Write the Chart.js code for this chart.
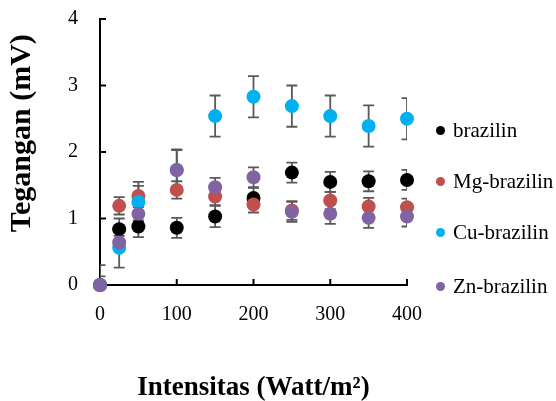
<!DOCTYPE html>
<html>
<head>
<meta charset="utf-8">
<script src="https://cdn.jsdelivr.net/npm/chart.js@4"></script>
<style>
  html, body { margin: 0; padding: 0; background: #fff; }
  #wrap { width: 556px; height: 401px; position: relative; }
  #legend { position: absolute; left: 436px; top: 0; font: 21px 'Liberation Serif', 'Times New Roman', serif; color: #000; }
  #legend div { position: absolute; white-space: nowrap; line-height: 24px; height: 24px; }
  #legend span { display: inline-block; width: 9px; height: 9px; border-radius: 50%; margin-right: 8px; vertical-align: 2px; }
</style>
</head>
<body>
<div id="wrap"><canvas id="c"></canvas><div id="legend"></div></div>
<script>
// intensity (Watt/m2) vs voltage (mV)
const intensitas = [0, 25, 50, 100, 150, 200, 250, 300, 350, 400];
const brazilin    = [0, 0.84, 0.88, 0.86, 1.03, 1.31, 1.69, 1.55, 1.56, 1.58];
const brazilinErr = [0.13, 0.16, 0.16, 0.15, 0.16, 0.15, 0.15, 0.15, 0.15, 0.15];
const mgBrazilin    = [0, 1.19, 1.34, 1.43, 1.33, 1.21, 1.12, 1.27, 1.18, 1.17];
const mgBrazilinErr = [0, 0.13, 0.15, 0.13, 0.13, 0.12, 0.14, 0.13, 0.13, 0.13];
const cuBrazilin    = [0, 0.56, 1.25, 1.73, 2.54, 2.83, 2.69, 2.54, 2.39, 2.50];
const cuBrazilinErr = [0.3, 0.3, 0.3, 0.31, 0.31, 0.31, 0.31, 0.31, 0.31, 0.31];
const znBrazilin    = [0, 0.64, 1.07, 1.73, 1.47, 1.62, 1.10, 1.07, 1.01, 1.03];
const znBrazilinErr = [0, 0.1, 0.1, 0.3, 0.14, 0.15, 0.15, 0.15, 0.15, 0.15];
const xTicks = [0, 100, 200, 300, 400];
const yTicks = [0, 1, 2, 3, 4];

const serif = "'Liberation Serif', 'Times New Roman', serif";
const pts = ys => intensitas.map((x, i) => ({ x, y: ys[i] }));

// listed top-most first (dataset 0 is painted last)
const series = [
  { label: 'Zn-brazilin', data: znBrazilin, err: znBrazilinErr, color: '#8064A2' },
  { label: 'Cu-brazilin', data: cuBrazilin, err: cuBrazilinErr, color: '#00B0F0' },
  { label: 'Mg-brazilin', data: mgBrazilin, err: mgBrazilinErr, color: '#C0504D' },
  { label: 'brazilin', data: brazilin, err: brazilinErr, color: '#000000' }
];

// error bars (clipped to plot area) + inward tick marks
const errorBars = {
  id: 'errorBars',
  beforeDatasetsDraw(chart) {
    const { ctx, chartArea: a, scales: { x, y } } = chart;
    ctx.save();
    ctx.beginPath();
    ctx.rect(a.left, a.top, a.right - a.left, a.bottom - a.top);
    ctx.clip();
    ctx.strokeStyle = '#595959';
    ctx.lineWidth = 1.8;
    chart.data.datasets.forEach((ds, di) => {
      const meta = chart.getDatasetMeta(di);
      ds.err.forEach((e, i) => {
        if (!e) return;
        const px = meta.data[i].x, v = ds.data[i].y;
        const top = y.getPixelForValue(v + e), bot = y.getPixelForValue(v - e);
        ctx.beginPath();
        ctx.moveTo(px, top); ctx.lineTo(px, bot);
        ctx.moveTo(px - 5.5, top); ctx.lineTo(px + 5.5, top);
        ctx.moveTo(px - 5.5, bot); ctx.lineTo(px + 5.5, bot);
        ctx.stroke();
      });
    });
    ctx.restore();

    ctx.save();
    ctx.strokeStyle = '#000';
    ctx.lineWidth = 2;
    ctx.beginPath();
    xTicks.forEach(v => {
      const px = x.getPixelForValue(v);
      if (v === 0) return;
      ctx.moveTo(px, a.bottom); ctx.lineTo(px, a.bottom - 6);
    });
    yTicks.forEach(v => {
      const py = y.getPixelForValue(v);
      if (v === 0) return;
      ctx.moveTo(a.left, py); ctx.lineTo(a.left + 6, py);
    });
    ctx.stroke();
    ctx.restore();
  }
};

const chart = new Chart(document.getElementById('c'), {
  type: 'scatter',
  data: {
    datasets: series.map(s => ({
      label: s.label,
      data: pts(s.data),
      err: s.err,
      backgroundColor: s.color,
      borderColor: s.color,
      borderWidth: 0,
      pointRadius: 7, pointHoverRadius: 7,
      clip: false
    }))
  },
  options: {
    responsive: true, maintainAspectRatio: false, animation: false,
    layout: { padding: { top: 19, right: 149, left: 0, bottom: 0 } },
    plugins: {
      tooltip: { enabled: false },
      legend: { display: false }
    },
    scales: {
      x: {
        type: 'linear', min: 0, max: 400,
        afterBuildTicks: s => { s.ticks = xTicks.map(v => ({ value: v })); },
        afterFit: s => { s.height = 116; },
        border: { color: '#000', width: 2 },
        grid: { display: false, drawTicks: false },
        ticks: { color: '#000', padding: 18, font: { family: serif, size: 20 } },
        title: {
          display: true, text: 'Intensitas (Watt/m²)', color: '#000',
          font: { family: serif, size: 27, weight: 'bold', lineHeight: 0.95 }, padding: { top: 0, bottom: 0 }
        }
      },
      y: {
        min: 0, max: 4,
        afterBuildTicks: s => { s.ticks = yTicks.map(v => ({ value: v })); },
        afterFit: s => { s.width = 100; s.paddingTop = 0; s.paddingBottom = 0; },
        border: { color: '#000', width: 2 },
        grid: { display: false, drawTicks: false },
        ticks: { color: '#000', padding: 22, font: { family: serif, size: 20 } },
        title: {
          display: true, text: '     Tegangan (mV)', color: '#000',
          font: { family: serif, size: 30, weight: 'bold' }, padding: { top: 4, bottom: 0 }
        }
      }
    }
  },
  plugins: [errorBars]
});

// legend in original series order, vertically spaced as in the figure
const legendTops = [118, 169, 220, 274];
const legendEl = document.getElementById('legend');
chart.data.datasets.slice().reverse().forEach((ds, i) => {
  const item = document.createElement('div');
  item.style.top = legendTops[i] + 'px';
  const dot = document.createElement('span');
  dot.style.background = ds.backgroundColor;
  item.appendChild(dot);
  item.appendChild(document.createTextNode(ds.label));
  legendEl.appendChild(item);
});
</script>
</body>
</html>
